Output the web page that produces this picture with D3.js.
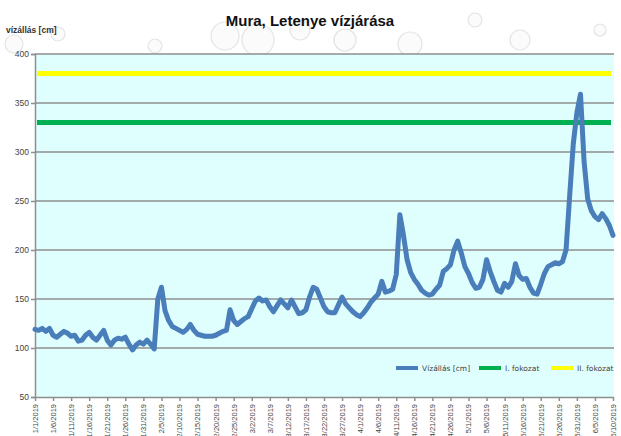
<!DOCTYPE html>
<html>
<head>
<meta charset="utf-8">
<script src="https://cdn.jsdelivr.net/npm/d3@7"></script>
<style>
  body { margin: 0; background: #fff; }
  svg { display: block; }
</style>
</head>
<body>
<div id="chart"></div>
<script>
// daily water level, 2019-01-01 .. 2019-06-10
const startDate = new Date(2019, 0, 1);
const waterLevel = [
  119, 118, 120, 117, 120, 113, 111, 114, 117, 115,
  112, 113, 107, 108, 113, 116, 111, 108, 113, 118,
  108, 103, 108, 110, 109, 111, 104, 98, 103, 106,
  104, 108, 104, 99, 150, 162, 138, 128, 122, 120,
  118, 116, 119, 124, 118, 114, 113, 112, 112, 112,
  113, 115, 117, 118, 139, 128, 124, 127, 130, 132,
  140, 148, 151, 148, 149, 142, 137, 143, 149, 145,
  141, 149, 142, 135, 136, 139, 152, 162, 160, 151,
  142, 137, 136, 136, 144, 152, 145, 141, 137, 134,
  132, 136, 141, 147, 151, 155, 168, 157, 158, 160,
  175, 236, 215, 190, 177, 170, 165, 159, 156, 154,
  155, 160, 164, 178, 181, 185, 200, 209, 197, 183,
  176, 167, 161, 162, 170, 190, 178, 168, 159, 157,
  166, 162, 168, 186, 174, 170, 171, 162, 156, 155,
  165, 176, 183, 185, 187, 186, 188, 200, 255, 308,
  340, 359, 290, 252, 240, 234, 231, 237, 232, 225,
  215
];
const thresholdNames = ["I. fokozat", "II. fokozat"];
const thresholdValues = [330, 380];
const thresholdColors = ["#00b050", "#ffff00"];
const seriesName = "Vízállás [cm]";
const yTicks = [50, 100, 150, 200, 250, 300, 350, 400];
const tickEveryDays = 5;
const tickCount = 33; // 1/1 .. 6/10

const width = 621;
const height = 436;
const margin = { top: 54, right: 8, bottom: 39, left: 35 };

const data = waterLevel.map((v, i) => ({
  date: d3.timeDay.offset(startDate, i),
  value: v,
}));
const tickDates = d3.range(tickCount).map((i) =>
  d3.timeDay.offset(startDate, i * tickEveryDays),
);
const fmt = (d) => `${d.getMonth() + 1}/${d.getDate()}/${d.getFullYear()}`;

const x = d3
  .scaleTime()
  .domain([startDate, tickDates[tickDates.length - 1]])
  .range([margin.left, width - margin.right]);

const y = d3
  .scaleLinear()
  .domain([50, 400])
  .range([height - margin.bottom, margin.top]);

const svg = d3
  .select("#chart")
  .append("svg")
  .attr("width", width)
  .attr("height", height)
  .style("font-family", "'DejaVu Sans', sans-serif");

// faint bubbles in the background
const bubbles = [
  [14, 44, 9], [58, 34, 7], [155, 46, 7], [225, 36, 14], [258, 40, 16],
  [300, 30, 10], [345, 40, 11], [410, 44, 12], [475, 20, 7], [520, 40, 10],
  [600, 30, 6],
];
svg
  .append("g")
  .selectAll("circle")
  .data(bubbles)
  .join("circle")
  .attr("cx", (d) => d[0])
  .attr("cy", (d) => d[1])
  .attr("r", (d) => d[2])
  .attr("fill", "#fbfbfb")
  .attr("stroke", "#e4e4e4")
  .attr("stroke-width", 1.2);

// plot area background
svg
  .append("rect")
  .attr("x", margin.left)
  .attr("y", margin.top)
  .attr("width", width - margin.right - margin.left + 1)
  .attr("height", height - margin.bottom - margin.top)
  .attr("fill", "#dffefe");

// grid lines
svg
  .append("g")
  .selectAll("line")
  .data(yTicks.slice(1))
  .join("line")
  .attr("x1", margin.left)
  .attr("x2", width - margin.right + 1)
  .attr("y1", (d) => y(d))
  .attr("y2", (d) => y(d))
  .attr("stroke", "#8e8e8e")
  .attr("stroke-width", 1.5);

// y axis
const yAxis = svg
  .append("g")
  .attr("transform", `translate(${margin.left},0)`)
  .call(d3.axisLeft(y).tickValues(yTicks).tickSize(4).tickPadding(2));
yAxis.select(".domain").attr("stroke", "#8e8e8e").attr("stroke-width", 1.5);
yAxis.selectAll(".tick line").attr("stroke", "#8e8e8e").attr("stroke-width", 1.5);
yAxis.selectAll("text").attr("font-size", "8.5px").attr("fill", "#444");

// x axis
const xAxis = svg
  .append("g")
  .attr("transform", `translate(0,${height - margin.bottom})`)
  .call(d3.axisBottom(x).tickValues(tickDates).tickFormat(fmt).tickSize(4).tickSizeOuter(0));
xAxis.select(".domain").attr("stroke", "#8e8e8e").attr("stroke-width", 1.5);
xAxis.selectAll(".tick line").attr("stroke", "#8e8e8e").attr("stroke-width", 1.5);
xAxis
  .selectAll("text")
  .attr("font-size", "7.5px")
  .attr("fill", "#444")
  .attr("text-anchor", "end")
  .attr("transform", "rotate(-90)")
  .attr("x", -7)
  .attr("y", 0)
  .attr("dy", "0.32em");

// threshold lines
thresholdValues.forEach((v, i) => {
  svg
    .append("line")
    .attr("x1", margin.left + 2)
    .attr("x2", width - margin.right - 2)
    .attr("y1", y(v))
    .attr("y2", y(v))
    .attr("stroke", thresholdColors[i])
    .attr("stroke-width", 5);
});

// water level
const line = d3
  .line()
  .x((d) => x(d.date))
  .y((d) => y(d.value));

svg
  .append("path")
  .datum(data)
  .attr("fill", "none")
  .attr("stroke", "#4a7ebb")
  .attr("stroke-width", 5)
  .attr("stroke-linejoin", "round")
  .attr("stroke-linecap", "round")
  .attr("d", line);

// title and axis label
svg
  .append("text")
  .attr("x", 310)
  .attr("y", 26)
  .attr("text-anchor", "middle")
  .attr("font-family", "'Liberation Sans', Arial, sans-serif")
  .attr("font-weight", "bold")
  .attr("font-size", "15px")
  .attr("fill", "#111")
  .text("Mura, Letenye vízjárása");

svg
  .append("text")
  .attr("x", 6)
  .attr("y", 33)
  .attr("font-family", "'Liberation Sans', Arial, sans-serif")
  .attr("font-weight", "bold")
  .attr("font-size", "8.5px")
  .attr("fill", "#333")
  .text("vízállás [cm]");

// legend
const legendItems = [
  { label: seriesName, color: "#4a7ebb", x: 396 },
  { label: thresholdNames[0], color: thresholdColors[0], x: 479 },
  { label: thresholdNames[1], color: thresholdColors[1], x: 551 },
];
const legend = svg.append("g").attr("transform", "translate(0,368)");
legendItems.forEach((item) => {
  const g = legend.append("g").attr("transform", `translate(${item.x},0)`);
  g.append("line")
    .attr("x1", 0)
    .attr("x2", 22)
    .attr("stroke", item.color)
    .attr("stroke-width", 4);
  g.append("text")
    .attr("x", 26)
    .attr("y", 3)
    .attr("font-size", "7.5px")
    .attr("fill", "#444")
    .text(item.label);
});
</script>
</body>
</html>
